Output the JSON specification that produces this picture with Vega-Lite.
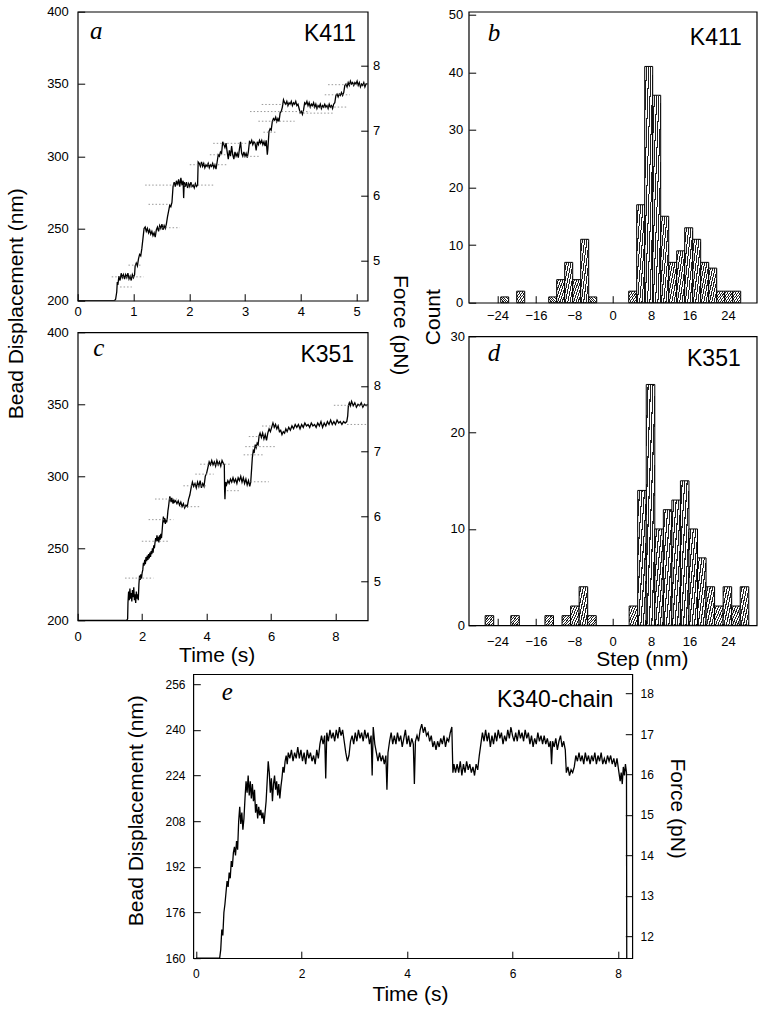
{
  "$schema": "https://vega.github.io/schema/vega-lite/v6.json",
  "background": "white",
  "padding": {"left": 4.7, "top": 4.7, "right": 5, "bottom": 5},
  "spacing": 2.5,
  "datasets": {
    "ta": [
      {"t":0,"y":200},{"t":0.66,"y":200},{"t":0.68,"y":201},{"t":0.70,"y":206},{"t":0.71,"y":213},{"t":0.72,"y":211},{"t":0.74,"y":217},{"t":0.76,"y":214},{"t":0.78,"y":219},{"t":0.80,"y":216},{"t":0.82,"y":218},{"t":0.84,"y":215},{"t":0.86,"y":218},{"t":0.88,"y":216},{"t":0.90,"y":219},{"t":0.92,"y":215},{"t":0.94,"y":217},{"t":0.96,"y":214},{"t":0.98,"y":218},{"t":1.00,"y":216},{"t":1.02,"y":218},{"t":1.03,"y":224},{"t":1.05,"y":226},{"t":1.07,"y":224},{"t":1.09,"y":229},{"t":1.11,"y":232},{"t":1.13,"y":231},{"t":1.15,"y":236},{"t":1.17,"y":243},{"t":1.19,"y":250},{"t":1.21,"y":251},{"t":1.23,"y":248},{"t":1.25,"y":250},{"t":1.27,"y":247},{"t":1.29,"y":249},{"t":1.31,"y":246},{"t":1.33,"y":248},{"t":1.35,"y":245},{"t":1.37,"y":247},{"t":1.39,"y":244},{"t":1.41,"y":249},{"t":1.43,"y":251},{"t":1.45,"y":248},{"t":1.47,"y":252},{"t":1.49,"y":250},{"t":1.51,"y":253},{"t":1.53,"y":249},{"t":1.55,"y":252},{"t":1.57,"y":250},{"t":1.59,"y":253},{"t":1.61,"y":258},{"t":1.63,"y":262},{"t":1.65,"y":266},{"t":1.67,"y":265},{"t":1.69,"y":268},{"t":1.71,"y":279},{"t":1.73,"y":282},{"t":1.75,"y":279},{"t":1.77,"y":283},{"t":1.79,"y":280},{"t":1.81,"y":284},{"t":1.83,"y":279},{"t":1.85,"y":285},{"t":1.87,"y":280},{"t":1.89,"y":283},{"t":1.90,"y":271},{"t":1.91,"y":282},{"t":1.93,"y":279},{"t":1.95,"y":282},{"t":1.97,"y":278},{"t":1.99,"y":281},{"t":2.01,"y":279},{"t":2.03,"y":282},{"t":2.05,"y":279},{"t":2.07,"y":280},{"t":2.09,"y":278},{"t":2.11,"y":281},{"t":2.13,"y":279},{"t":2.15,"y":280},{"t":2.16,"y":296},{"t":2.18,"y":295},{"t":2.20,"y":293},{"t":2.22,"y":296},{"t":2.24,"y":293},{"t":2.26,"y":295},{"t":2.28,"y":292},{"t":2.30,"y":294},{"t":2.32,"y":293},{"t":2.34,"y":295},{"t":2.36,"y":292},{"t":2.38,"y":294},{"t":2.40,"y":293},{"t":2.42,"y":295},{"t":2.44,"y":292},{"t":2.46,"y":294},{"t":2.48,"y":291},{"t":2.50,"y":296},{"t":2.52,"y":301},{"t":2.54,"y":300},{"t":2.56,"y":303},{"t":2.58,"y":302},{"t":2.60,"y":310},{"t":2.62,"y":308},{"t":2.64,"y":306},{"t":2.66,"y":309},{"t":2.68,"y":303},{"t":2.70,"y":298},{"t":2.72,"y":304},{"t":2.74,"y":300},{"t":2.76,"y":307},{"t":2.78,"y":301},{"t":2.80,"y":298},{"t":2.82,"y":303},{"t":2.84,"y":300},{"t":2.86,"y":302},{"t":2.88,"y":299},{"t":2.90,"y":305},{"t":2.92,"y":310},{"t":2.94,"y":302},{"t":2.96,"y":300},{"t":2.98,"y":303},{"t":3.00,"y":300},{"t":3.02,"y":302},{"t":3.04,"y":299},{"t":3.06,"y":303},{"t":3.08,"y":310},{"t":3.10,"y":309},{"t":3.12,"y":311},{"t":3.14,"y":308},{"t":3.16,"y":310},{"t":3.18,"y":309},{"t":3.20,"y":304},{"t":3.22,"y":310},{"t":3.24,"y":308},{"t":3.26,"y":311},{"t":3.28,"y":309},{"t":3.30,"y":311},{"t":3.32,"y":308},{"t":3.34,"y":310},{"t":3.36,"y":307},{"t":3.38,"y":311},{"t":3.40,"y":301},{"t":3.41,"y":305},{"t":3.43,"y":317},{"t":3.45,"y":319},{"t":3.47,"y":318},{"t":3.49,"y":324},{"t":3.51,"y":326},{"t":3.53,"y":325},{"t":3.55,"y":327},{"t":3.57,"y":324},{"t":3.59,"y":326},{"t":3.61,"y":324},{"t":3.63,"y":330},{"t":3.65,"y":331},{"t":3.67,"y":334},{"t":3.69,"y":339},{"t":3.71,"y":337},{"t":3.73,"y":336},{"t":3.75,"y":338},{"t":3.77,"y":335},{"t":3.79,"y":337},{"t":3.81,"y":336},{"t":3.83,"y":338},{"t":3.85,"y":335},{"t":3.87,"y":337},{"t":3.89,"y":336},{"t":3.91,"y":338},{"t":3.93,"y":335},{"t":3.95,"y":336},{"t":3.97,"y":333},{"t":3.99,"y":330},{"t":4.01,"y":331},{"t":4.03,"y":329},{"t":4.05,"y":332},{"t":4.07,"y":337},{"t":4.09,"y":336},{"t":4.11,"y":338},{"t":4.13,"y":335},{"t":4.15,"y":337},{"t":4.17,"y":334},{"t":4.19,"y":336},{"t":4.21,"y":335},{"t":4.23,"y":337},{"t":4.25,"y":334},{"t":4.27,"y":336},{"t":4.29,"y":333},{"t":4.31,"y":335},{"t":4.33,"y":334},{"t":4.35,"y":336},{"t":4.37,"y":333},{"t":4.39,"y":335},{"t":4.41,"y":334},{"t":4.43,"y":336},{"t":4.45,"y":334},{"t":4.47,"y":335},{"t":4.49,"y":333},{"t":4.51,"y":336},{"t":4.53,"y":334},{"t":4.55,"y":335},{"t":4.57,"y":333},{"t":4.59,"y":336},{"t":4.61,"y":337},{"t":4.63,"y":342},{"t":4.65,"y":343},{"t":4.67,"y":341},{"t":4.69,"y":343},{"t":4.71,"y":342},{"t":4.73,"y":344},{"t":4.75,"y":342},{"t":4.77,"y":344},{"t":4.79,"y":349},{"t":4.81,"y":350},{"t":4.83,"y":348},{"t":4.85,"y":351},{"t":4.87,"y":349},{"t":4.89,"y":352},{"t":4.91,"y":350},{"t":4.93,"y":351},{"t":4.95,"y":349},{"t":4.97,"y":351},{"t":4.99,"y":350},{"t":5.01,"y":352},{"t":5.03,"y":349},{"t":5.05,"y":351},{"t":5.07,"y":348},{"t":5.09,"y":350},{"t":5.11,"y":349},{"t":5.13,"y":351},{"t":5.15,"y":348},{"t":5.17,"y":350},{"t":5.20,"y":350}
    ],
    "ga": [
      {"t1":0.61,"t2":1.18,"y":216.5},{"t1":0.91,"t2":1.15,"y":224.6},{"t1":0.76,"t2":0.97,"y":209.5},{"t1":1.45,"t2":1.83,"y":250.5},{"t1":1.27,"t2":1.71,"y":266.7},{"t1":1.21,"t2":2.43,"y":280},{"t1":2.01,"t2":2.67,"y":294.1},{"t1":2.37,"t2":2.67,"y":301},{"t1":2.43,"t2":3.06,"y":308.9},{"t1":3.03,"t2":3.27,"y":299.9},{"t1":3.24,"t2":3.89,"y":324.2},{"t1":3.09,"t2":4.16,"y":330.9},{"t1":3.3,"t2":3.87,"y":335.8},{"t1":3.33,"t2":3.57,"y":316.6},{"t1":3.98,"t2":4.58,"y":329.8},{"t1":4.16,"t2":4.82,"y":334},{"t1":4.43,"t2":4.88,"y":342.5},{"t1":4.49,"t2":5.18,"y":349.5}
    ],
    "tc": [
      {"t":0,"y":200},{"t":1.52,"y":200},{"t":1.55,"y":201},{"t":1.56,"y":212},{"t":1.58,"y":220},{"t":1.60,"y":214},{"t":1.62,"y":222},{"t":1.64,"y":215},{"t":1.66,"y":219},{"t":1.68,"y":213},{"t":1.70,"y":221},{"t":1.72,"y":216},{"t":1.74,"y":223},{"t":1.76,"y":214},{"t":1.78,"y":218},{"t":1.80,"y":212},{"t":1.82,"y":220},{"t":1.84,"y":215},{"t":1.86,"y":218},{"t":1.88,"y":214},{"t":1.90,"y":225},{"t":1.92,"y":231},{"t":1.94,"y":228},{"t":1.96,"y":232},{"t":1.98,"y":229},{"t":2.00,"y":233},{"t":2.02,"y":235},{"t":2.04,"y":240},{"t":2.06,"y":238},{"t":2.08,"y":242},{"t":2.10,"y":239},{"t":2.12,"y":244},{"t":2.14,"y":241},{"t":2.16,"y":245},{"t":2.18,"y":242},{"t":2.20,"y":246},{"t":2.22,"y":243},{"t":2.24,"y":247},{"t":2.26,"y":244},{"t":2.28,"y":248},{"t":2.30,"y":246},{"t":2.32,"y":250},{"t":2.34,"y":247},{"t":2.36,"y":252},{"t":2.38,"y":250},{"t":2.40,"y":254},{"t":2.42,"y":257},{"t":2.44,"y":255},{"t":2.46,"y":259},{"t":2.48,"y":255},{"t":2.50,"y":258},{"t":2.52,"y":254},{"t":2.54,"y":259},{"t":2.56,"y":256},{"t":2.58,"y":260},{"t":2.60,"y":257},{"t":2.62,"y":262},{"t":2.64,"y":268},{"t":2.66,"y":272},{"t":2.68,"y":268},{"t":2.70,"y":271},{"t":2.72,"y":267},{"t":2.74,"y":270},{"t":2.76,"y":268},{"t":2.78,"y":271},{"t":2.80,"y":276},{"t":2.82,"y":279},{"t":2.84,"y":283},{"t":2.86,"y":286},{"t":2.88,"y":284},{"t":2.90,"y":282},{"t":2.92,"y":285},{"t":2.94,"y":283},{"t":2.96,"y":281},{"t":2.98,"y":284},{"t":3.00,"y":282},{"t":3.04,"y":283},{"t":3.08,"y":281},{"t":3.12,"y":283},{"t":3.16,"y":280},{"t":3.20,"y":282},{"t":3.24,"y":279},{"t":3.28,"y":281},{"t":3.32,"y":278},{"t":3.36,"y":280},{"t":3.40,"y":279},{"t":3.44,"y":284},{"t":3.48,"y":287},{"t":3.52,"y":292},{"t":3.56,"y":296},{"t":3.60,"y":293},{"t":3.64,"y":295},{"t":3.68,"y":292},{"t":3.72,"y":296},{"t":3.76,"y":293},{"t":3.80,"y":297},{"t":3.84,"y":292},{"t":3.88,"y":295},{"t":3.92,"y":293},{"t":3.96,"y":300},{"t":4.00,"y":302},{"t":4.04,"y":306},{"t":4.08,"y":310},{"t":4.12,"y":308},{"t":4.16,"y":311},{"t":4.20,"y":308},{"t":4.24,"y":310},{"t":4.28,"y":307},{"t":4.32,"y":311},{"t":4.36,"y":308},{"t":4.40,"y":310},{"t":4.44,"y":307},{"t":4.48,"y":311},{"t":4.52,"y":309},{"t":4.55,"y":308},{"t":4.56,"y":290},{"t":4.57,"y":284},{"t":4.59,"y":296},{"t":4.62,"y":294},{"t":4.66,"y":297},{"t":4.70,"y":295},{"t":4.74,"y":298},{"t":4.78,"y":296},{"t":4.82,"y":299},{"t":4.86,"y":296},{"t":4.90,"y":298},{"t":4.94,"y":295},{"t":4.98,"y":299},{"t":5.02,"y":297},{"t":5.06,"y":300},{"t":5.10,"y":296},{"t":5.14,"y":299},{"t":5.18,"y":295},{"t":5.22,"y":298},{"t":5.26,"y":294},{"t":5.30,"y":297},{"t":5.34,"y":293},{"t":5.37,"y":296},{"t":5.40,"y":306},{"t":5.42,"y":313},{"t":5.45,"y":318},{"t":5.48,"y":317},{"t":5.51,"y":322},{"t":5.54,"y":320},{"t":5.57,"y":323},{"t":5.60,"y":322},{"t":5.63,"y":328},{"t":5.66,"y":330},{"t":5.70,"y":327},{"t":5.74,"y":330},{"t":5.78,"y":326},{"t":5.82,"y":329},{"t":5.86,"y":325},{"t":5.90,"y":330},{"t":5.94,"y":333},{"t":5.98,"y":331},{"t":6.02,"y":334},{"t":6.06,"y":337},{"t":6.10,"y":334},{"t":6.14,"y":336},{"t":6.18,"y":333},{"t":6.22,"y":335},{"t":6.26,"y":331},{"t":6.30,"y":332},{"t":6.34,"y":329},{"t":6.38,"y":331},{"t":6.42,"y":330},{"t":6.46,"y":333},{"t":6.50,"y":331},{"t":6.55,"y":334},{"t":6.60,"y":332},{"t":6.65,"y":335},{"t":6.70,"y":333},{"t":6.75,"y":336},{"t":6.80,"y":334},{"t":6.85,"y":336},{"t":6.90,"y":333},{"t":6.95,"y":336},{"t":7.00,"y":334},{"t":7.05,"y":337},{"t":7.10,"y":335},{"t":7.15,"y":336},{"t":7.20,"y":334},{"t":7.25,"y":337},{"t":7.30,"y":335},{"t":7.35,"y":336},{"t":7.40,"y":334},{"t":7.45,"y":337},{"t":7.50,"y":335},{"t":7.55,"y":338},{"t":7.60,"y":334},{"t":7.65,"y":337},{"t":7.70,"y":335},{"t":7.75,"y":338},{"t":7.80,"y":336},{"t":7.85,"y":339},{"t":7.90,"y":336},{"t":7.95,"y":338},{"t":8.00,"y":336},{"t":8.05,"y":339},{"t":8.10,"y":337},{"t":8.15,"y":338},{"t":8.20,"y":336},{"t":8.25,"y":338},{"t":8.30,"y":337},{"t":8.35,"y":338},{"t":8.38,"y":342},{"t":8.40,"y":349},{"t":8.43,"y":351},{"t":8.46,"y":349},{"t":8.50,"y":352},{"t":8.55,"y":349},{"t":8.60,"y":351},{"t":8.65,"y":348},{"t":8.70,"y":350},{"t":8.75,"y":349},{"t":8.80,"y":351},{"t":8.85,"y":348},{"t":8.90,"y":350},{"t":8.95,"y":349},{"t":9.00,"y":350}
    ],
    "gc": [
      {"t1":1.47,"t2":2.35,"y":229.3},{"t1":1.99,"t2":2.82,"y":254.9},{"t1":2.2,"t2":2.97,"y":269.9},{"t1":2.4,"t2":3.08,"y":284.2},{"t1":3.18,"t2":3.8,"y":278.9},{"t1":3.28,"t2":4.01,"y":293.4},{"t1":3.65,"t2":4.22,"y":301.5},{"t1":3.8,"t2":4.74,"y":308.4},{"t1":4.63,"t2":5.05,"y":290},{"t1":5.36,"t2":5.93,"y":296.2},{"t1":5.15,"t2":5.77,"y":314.9},{"t1":5.2,"t2":6.13,"y":320.6},{"t1":5.31,"t2":5.77,"y":327.6},{"t1":5.72,"t2":6.19,"y":334.9},{"t1":8.36,"t2":8.98,"y":336},{"t1":7.95,"t2":8.98,"y":349.3}
    ],
    "te": [
      {"t":0,"y":160},{"t":0.45,"y":160},{"t":0.47,"y":163},{"t":0.49,"y":170},{"t":0.51,"y":168},{"t":0.53,"y":176},{"t":0.55,"y":179},{"t":0.57,"y":183},{"t":0.59,"y":187},{"t":0.61,"y":185},{"t":0.63,"y":190},{"t":0.65,"y":188},{"t":0.67,"y":194},{"t":0.69,"y":192},{"t":0.71,"y":197},{"t":0.73,"y":199},{"t":0.75,"y":196},{"t":0.77,"y":201},{"t":0.79,"y":198},{"t":0.81,"y":208},{"t":0.83,"y":213},{"t":0.85,"y":207},{"t":0.87,"y":211},{"t":0.89,"y":205},{"t":0.91,"y":209},{"t":0.93,"y":216},{"t":0.95,"y":222},{"t":0.97,"y":218},{"t":0.99,"y":224},{"t":1.01,"y":217},{"t":1.03,"y":222},{"t":1.05,"y":216},{"t":1.07,"y":221},{"t":1.09,"y":215},{"t":1.11,"y":219},{"t":1.13,"y":211},{"t":1.15,"y":214},{"t":1.17,"y":209},{"t":1.19,"y":213},{"t":1.21,"y":210},{"t":1.23,"y":212},{"t":1.25,"y":209},{"t":1.27,"y":211},{"t":1.29,"y":207},{"t":1.31,"y":211},{"t":1.33,"y":215},{"t":1.35,"y":222},{"t":1.37,"y":229},{"t":1.39,"y":225},{"t":1.41,"y":218},{"t":1.43,"y":223},{"t":1.45,"y":215},{"t":1.47,"y":221},{"t":1.49,"y":224},{"t":1.51,"y":219},{"t":1.53,"y":222},{"t":1.55,"y":217},{"t":1.57,"y":221},{"t":1.59,"y":216},{"t":1.61,"y":220},{"t":1.63,"y":223},{"t":1.65,"y":227},{"t":1.67,"y":225},{"t":1.69,"y":229},{"t":1.71,"y":231},{"t":1.73,"y":228},{"t":1.75,"y":232},{"t":1.78,"y":230},{"t":1.81,"y":233},{"t":1.84,"y":229},{"t":1.87,"y":232},{"t":1.90,"y":230},{"t":1.93,"y":234},{"t":1.96,"y":230},{"t":1.99,"y":233},{"t":2.02,"y":229},{"t":2.05,"y":232},{"t":2.08,"y":228},{"t":2.11,"y":233},{"t":2.14,"y":230},{"t":2.17,"y":232},{"t":2.20,"y":229},{"t":2.23,"y":231},{"t":2.26,"y":228},{"t":2.29,"y":233},{"t":2.32,"y":230},{"t":2.35,"y":235},{"t":2.38,"y":238},{"t":2.41,"y":235},{"t":2.44,"y":238},{"t":2.46,"y":223},{"t":2.48,"y":239},{"t":2.51,"y":236},{"t":2.54,"y":240},{"t":2.57,"y":237},{"t":2.60,"y":239},{"t":2.63,"y":236},{"t":2.66,"y":240},{"t":2.69,"y":237},{"t":2.72,"y":241},{"t":2.75,"y":238},{"t":2.78,"y":240},{"t":2.81,"y":236},{"t":2.84,"y":232},{"t":2.87,"y":229},{"t":2.90,"y":231},{"t":2.93,"y":236},{"t":2.96,"y":238},{"t":2.99,"y":235},{"t":3.02,"y":239},{"t":3.05,"y":236},{"t":3.08,"y":240},{"t":3.11,"y":237},{"t":3.14,"y":239},{"t":3.17,"y":236},{"t":3.20,"y":240},{"t":3.23,"y":237},{"t":3.26,"y":239},{"t":3.29,"y":235},{"t":3.32,"y":238},{"t":3.34,"y":224},{"t":3.36,"y":241},{"t":3.39,"y":235},{"t":3.42,"y":232},{"t":3.45,"y":229},{"t":3.48,"y":232},{"t":3.51,"y":229},{"t":3.54,"y":231},{"t":3.57,"y":228},{"t":3.60,"y":231},{"t":3.62,"y":219},{"t":3.64,"y":232},{"t":3.67,"y":236},{"t":3.70,"y":239},{"t":3.73,"y":235},{"t":3.76,"y":238},{"t":3.79,"y":235},{"t":3.82,"y":239},{"t":3.85,"y":236},{"t":3.88,"y":238},{"t":3.91,"y":234},{"t":3.94,"y":237},{"t":3.97,"y":240},{"t":4.00,"y":235},{"t":4.03,"y":238},{"t":4.06,"y":234},{"t":4.09,"y":237},{"t":4.12,"y":235},{"t":4.14,"y":221},{"t":4.16,"y":236},{"t":4.19,"y":238},{"t":4.22,"y":236},{"t":4.25,"y":240},{"t":4.28,"y":242},{"t":4.31,"y":239},{"t":4.34,"y":241},{"t":4.37,"y":238},{"t":4.40,"y":239},{"t":4.43,"y":236},{"t":4.46,"y":238},{"t":4.49,"y":234},{"t":4.52,"y":236},{"t":4.55,"y":233},{"t":4.58,"y":236},{"t":4.61,"y":234},{"t":4.64,"y":237},{"t":4.67,"y":235},{"t":4.70,"y":238},{"t":4.73,"y":234},{"t":4.76,"y":237},{"t":4.79,"y":236},{"t":4.82,"y":239},{"t":4.85,"y":241},{"t":4.87,"y":225},{"t":4.89,"y":228},{"t":4.92,"y":225},{"t":4.95,"y":228},{"t":4.98,"y":225},{"t":5.01,"y":229},{"t":5.04,"y":224},{"t":5.07,"y":228},{"t":5.10,"y":225},{"t":5.13,"y":229},{"t":5.16,"y":226},{"t":5.19,"y":228},{"t":5.22,"y":225},{"t":5.25,"y":227},{"t":5.28,"y":224},{"t":5.31,"y":228},{"t":5.34,"y":226},{"t":5.37,"y":231},{"t":5.40,"y":235},{"t":5.43,"y":239},{"t":5.46,"y":236},{"t":5.49,"y":240},{"t":5.52,"y":236},{"t":5.55,"y":239},{"t":5.58,"y":234},{"t":5.61,"y":238},{"t":5.64,"y":235},{"t":5.67,"y":239},{"t":5.70,"y":236},{"t":5.73,"y":240},{"t":5.76,"y":237},{"t":5.79,"y":239},{"t":5.82,"y":235},{"t":5.85,"y":238},{"t":5.88,"y":236},{"t":5.91,"y":240},{"t":5.94,"y":237},{"t":5.97,"y":241},{"t":6.00,"y":238},{"t":6.03,"y":236},{"t":6.06,"y":239},{"t":6.09,"y":236},{"t":6.12,"y":240},{"t":6.15,"y":237},{"t":6.18,"y":239},{"t":6.21,"y":236},{"t":6.24,"y":240},{"t":6.27,"y":237},{"t":6.30,"y":239},{"t":6.33,"y":235},{"t":6.36,"y":238},{"t":6.39,"y":234},{"t":6.42,"y":237},{"t":6.45,"y":235},{"t":6.48,"y":239},{"t":6.51,"y":236},{"t":6.54,"y":238},{"t":6.57,"y":235},{"t":6.60,"y":238},{"t":6.63,"y":235},{"t":6.66,"y":237},{"t":6.69,"y":234},{"t":6.72,"y":236},{"t":6.74,"y":228},{"t":6.76,"y":236},{"t":6.79,"y":234},{"t":6.82,"y":237},{"t":6.85,"y":233},{"t":6.88,"y":236},{"t":6.91,"y":238},{"t":6.94,"y":234},{"t":6.97,"y":236},{"t":7.00,"y":233},{"t":7.02,"y":225},{"t":7.05,"y":227},{"t":7.08,"y":224},{"t":7.11,"y":226},{"t":7.14,"y":225},{"t":7.17,"y":227},{"t":7.20,"y":231},{"t":7.23,"y":229},{"t":7.26,"y":232},{"t":7.29,"y":229},{"t":7.32,"y":231},{"t":7.35,"y":228},{"t":7.38,"y":232},{"t":7.41,"y":229},{"t":7.44,"y":231},{"t":7.47,"y":228},{"t":7.50,"y":231},{"t":7.53,"y":229},{"t":7.56,"y":232},{"t":7.59,"y":228},{"t":7.62,"y":231},{"t":7.65,"y":229},{"t":7.68,"y":232},{"t":7.71,"y":228},{"t":7.74,"y":230},{"t":7.77,"y":228},{"t":7.80,"y":231},{"t":7.83,"y":229},{"t":7.86,"y":231},{"t":7.89,"y":228},{"t":7.92,"y":230},{"t":7.95,"y":227},{"t":7.98,"y":230},{"t":8.01,"y":226},{"t":8.04,"y":222},{"t":8.06,"y":225},{"t":8.08,"y":221},{"t":8.10,"y":227},{"t":8.12,"y":224},{"t":8.14,"y":228},{"t":8.16,"y":225},{"t":8.165,"y":160}
    ],
    "hb": [
      {"s":-23.33,"e":-21.67,"n":1},{"s":-20,"e":-18.33,"n":2},{"s":-13.33,"e":-11.67,"n":1},{"s":-11.67,"e":-10,"n":4},{"s":-10,"e":-8.33,"n":7},{"s":-8.33,"e":-6.67,"n":4},{"s":-6.67,"e":-5,"n":11},{"s":-5,"e":-3.33,"n":1},{"s":3.33,"e":5,"n":2},{"s":5,"e":6.67,"n":17},{"s":6.67,"e":8.33,"n":41},{"s":8.33,"e":10,"n":36},{"s":10,"e":11.67,"n":15},{"s":11.67,"e":13.33,"n":7},{"s":13.33,"e":15,"n":9},{"s":15,"e":16.67,"n":13},{"s":16.67,"e":18.33,"n":11},{"s":18.33,"e":20,"n":7},{"s":20,"e":21.67,"n":6},{"s":21.67,"e":23.33,"n":2},{"s":23.33,"e":25,"n":2},{"s":25,"e":26.67,"n":2}
    ],
    "hd": [
      {"s":-26.57,"e":-24.79,"n":1},{"s":-21.23,"e":-19.45,"n":1},{"s":-14.11,"e":-12.33,"n":1},{"s":-10.55,"e":-8.77,"n":1},{"s":-8.77,"e":-6.99,"n":2},{"s":-6.99,"e":-5.21,"n":4},{"s":-5.21,"e":-3.43,"n":1},{"s":3.43,"e":5.21,"n":2},{"s":5.21,"e":6.99,"n":14},{"s":6.99,"e":8.77,"n":25},{"s":8.77,"e":10.55,"n":10},{"s":10.55,"e":12.33,"n":12},{"s":12.33,"e":14.11,"n":13},{"s":14.11,"e":15.89,"n":15},{"s":15.89,"e":17.67,"n":10},{"s":17.67,"e":19.45,"n":7},{"s":19.45,"e":21.23,"n":4},{"s":21.23,"e":23.01,"n":2},{"s":23.01,"e":24.79,"n":4},{"s":24.79,"e":26.57,"n":2},{"s":26.57,"e":28.35,"n":4}
    ]
  },
  "vconcat": [
    {
      "spacing": 10,
      "hconcat": [
        {
          "bounds": "flush",
          "spacing": 31.6,
          "vconcat": [
            {
              "width": 290, "height": 289,
              "layer": [
                {
                  "layer": [
                    {"data": {"name": "ta"}, "mark": {"type": "line", "color": "black", "strokeWidth": 1.3, "clip": true},
                     "encoding": {
                       "x": {"field": "t", "type": "quantitative", "scale": {"domain": [0, 5.2], "nice": false, "zero": false}, "axis": {"values": [0,1,2,3,4,5], "format": "d", "title": null, "labelPadding": 12.3}},
                       "y": {"field": "y", "type": "quantitative", "scale": {"domain": [200, 400], "nice": false, "zero": false}, "axis": {"values": [200,250,300,350,400], "format": "d", "labelPadding": 16.4, "title": "Bead Displacement (nm)", "titleX": -61, "titleY": 291.5, "titleAngle": -90, "titleAlign": "center", "titleBaseline": "middle"}}
                     }},
                    {"data": {"name": "ga"}, "mark": {"type": "rule", "color": "#808080", "strokeDash": [1.5, 2], "strokeWidth": 0.8},
                     "encoding": {"x": {"field": "t1", "type": "quantitative", "scale": {"domain": [0, 5.2], "nice": false, "zero": false}}, "x2": {"field": "t2"}, "y": {"field": "y", "type": "quantitative", "scale": {"domain": [200, 400], "nice": false, "zero": false}}}},
                    {"data": {"values": [{"lab": "a"}]}, "mark": {"type": "text", "font": "Liberation Serif", "fontStyle": "italic", "fontSize": 25, "align": "left", "baseline": "alphabetic", "color": "black"},
                     "encoding": {"x": {"datum": 0.22}, "y": {"datum": 381}, "text": {"field": "lab"}}},
                    {"data": {"values": [{"lab": "K411"}]}, "mark": {"type": "text", "font": "Liberation Sans", "fontSize": 23, "align": "right", "baseline": "alphabetic", "color": "black"},
                     "encoding": {"x": {"datum": 4.99}, "y": {"datum": 379.5}, "text": {"field": "lab"}}}
                  ]
                },
                {"data": {"values": [{"f": 6}]}, "mark": {"type": "point", "opacity": 0},
                 "encoding": {"y": {"field": "f", "type": "quantitative", "scale": {"domain": [4.39, 8.83], "nice": false, "zero": false},
                   "axis": {"orient": "right", "values": [5,6,7,8], "format": "d", "labelPadding": 11.8, "title": "Force (pN)", "titleAngle": 90, "titleX": 32.3, "titleY": 313, "titleAlign": "center", "titleBaseline": "middle"}}}}
              ],
              "resolve": {"scale": {"y": "independent"}, "axis": {"y": "independent"}}
            },
            {
              "width": 290, "height": 288,
              "layer": [
                {
                  "layer": [
                    {"data": {"name": "tc"}, "mark": {"type": "line", "color": "black", "strokeWidth": 1.3, "clip": true},
                     "encoding": {
                       "x": {"field": "t", "type": "quantitative", "scale": {"domain": [0, 9], "nice": false, "zero": false}, "axis": {"values": [0,2,4,6,8], "format": "d", "labelPadding": 17.6, "title": "Time (s)", "titleX": 139, "titleY": 35, "titleAlign": "center", "titleBaseline": "middle"}},
                       "y": {"field": "y", "type": "quantitative", "scale": {"domain": [200, 400], "nice": false, "zero": false}, "axis": {"values": [200,250,300,350,400], "format": "d", "labelPadding": 16.4, "title": null}}
                     }},
                    {"data": {"name": "gc"}, "mark": {"type": "rule", "color": "#808080", "strokeDash": [1.5, 2], "strokeWidth": 0.8},
                     "encoding": {"x": {"field": "t1", "type": "quantitative", "scale": {"domain": [0, 9], "nice": false, "zero": false}}, "x2": {"field": "t2"}, "y": {"field": "y", "type": "quantitative", "scale": {"domain": [200, 400], "nice": false, "zero": false}}}},
                    {"data": {"values": [{"lab": "c"}]}, "mark": {"type": "text", "font": "Liberation Serif", "fontStyle": "italic", "fontSize": 25, "align": "left", "baseline": "alphabetic", "color": "black"},
                     "encoding": {"x": {"datum": 0.48}, "y": {"datum": 383.7}, "text": {"field": "lab"}}},
                    {"data": {"values": [{"lab": "K351"}]}, "mark": {"type": "text", "font": "Liberation Sans", "fontSize": 23, "align": "right", "baseline": "alphabetic", "color": "black"},
                     "encoding": {"x": {"datum": 8.58}, "y": {"datum": 379.2}, "text": {"field": "lab"}}}
                  ]
                },
                {"data": {"values": [{"f": 6}]}, "mark": {"type": "point", "opacity": 0},
                 "encoding": {"y": {"field": "f", "type": "quantitative", "scale": {"domain": [4.41, 8.82], "nice": false, "zero": false},
                   "axis": {"orient": "right", "values": [5,6,7,8], "format": "d", "labelPadding": 12.6, "title": null}}}}
              ],
              "resolve": {"scale": {"y": "independent"}, "axis": {"y": "independent"}}
            }
          ]
        },
        {
          "bounds": "flush",
          "spacing": 33.6,
          "vconcat": [
            {
              "width": 288, "height": 291,
              "layer": [
                {"data": {"name": "hb"},
                 "mark": {"type": "rect", "stroke": "black", "strokeWidth": 1,
                   "fill": {"gradient": "linear", "x1": 0, "y1": 0, "x2": 1, "y2": 1, "stops": [
                     {"offset": 0, "color": "white"}, {"offset": 0.0786, "color": "white"}, {"offset": 0.0786, "color": "#222222"}, {"offset": 0.1429, "color": "#222222"},
                     {"offset": 0.1429, "color": "white"}, {"offset": 0.2214, "color": "white"}, {"offset": 0.2214, "color": "#222222"}, {"offset": 0.2857, "color": "#222222"},
                     {"offset": 0.2857, "color": "white"}, {"offset": 0.3643, "color": "white"}, {"offset": 0.3643, "color": "#222222"}, {"offset": 0.4286, "color": "#222222"},
                     {"offset": 0.4286, "color": "white"}, {"offset": 0.5071, "color": "white"}, {"offset": 0.5071, "color": "#222222"}, {"offset": 0.5714, "color": "#222222"},
                     {"offset": 0.5714, "color": "white"}, {"offset": 0.65, "color": "white"}, {"offset": 0.65, "color": "#222222"}, {"offset": 0.7143, "color": "#222222"},
                     {"offset": 0.7143, "color": "white"}, {"offset": 0.7929, "color": "white"}, {"offset": 0.7929, "color": "#222222"}, {"offset": 0.8571, "color": "#222222"},
                     {"offset": 0.8571, "color": "white"}, {"offset": 0.9357, "color": "white"}, {"offset": 0.9357, "color": "#222222"}, {"offset": 1, "color": "#222222"}]}},
                 "encoding": {
                   "x": {"field": "s", "type": "quantitative", "scale": {"domain": [-30, 30], "nice": false, "zero": false}, "axis": {"values": [-24,-16,-8,0,8,16,24], "format": "d", "labelPadding": 14, "title": null}},
                   "x2": {"field": "e"},
                   "y": {"field": "n", "type": "quantitative", "scale": {"domain": [0, 50.5], "nice": false}, "axis": {"values": [0,10,20,30,40,50], "format": "d", "labelPadding": 13, "title": "Count", "titleX": -35, "titleY": 305, "titleAngle": -90, "titleAlign": "center", "titleBaseline": "middle"}},
                   "y2": {"datum": 0}
                 }},
                {"data": {"values": [{"lab": "b"}]}, "mark": {"type": "text", "font": "Liberation Serif", "fontStyle": "italic", "fontSize": 25, "align": "left", "baseline": "alphabetic", "color": "black"},
                 "encoding": {"x": {"datum": -26.05}, "y": {"datum": 45.5}, "text": {"field": "lab"}}},
                {"data": {"values": [{"lab": "K411"}]}, "mark": {"type": "text", "font": "Liberation Sans", "fontSize": 23, "align": "right", "baseline": "alphabetic", "color": "black"},
                 "encoding": {"x": {"datum": 26.9}, "y": {"datum": 44.8}, "text": {"field": "lab"}}}
              ]
            },
            {
              "width": 288, "height": 289,
              "layer": [
                {"data": {"name": "hd"},
                 "mark": {"type": "rect", "stroke": "black", "strokeWidth": 1,
                   "fill": {"gradient": "linear", "x1": 0, "y1": 0, "x2": 1, "y2": 1, "stops": [
                     {"offset": 0, "color": "white"}, {"offset": 0.0786, "color": "white"}, {"offset": 0.0786, "color": "#222222"}, {"offset": 0.1429, "color": "#222222"},
                     {"offset": 0.1429, "color": "white"}, {"offset": 0.2214, "color": "white"}, {"offset": 0.2214, "color": "#222222"}, {"offset": 0.2857, "color": "#222222"},
                     {"offset": 0.2857, "color": "white"}, {"offset": 0.3643, "color": "white"}, {"offset": 0.3643, "color": "#222222"}, {"offset": 0.4286, "color": "#222222"},
                     {"offset": 0.4286, "color": "white"}, {"offset": 0.5071, "color": "white"}, {"offset": 0.5071, "color": "#222222"}, {"offset": 0.5714, "color": "#222222"},
                     {"offset": 0.5714, "color": "white"}, {"offset": 0.65, "color": "white"}, {"offset": 0.65, "color": "#222222"}, {"offset": 0.7143, "color": "#222222"},
                     {"offset": 0.7143, "color": "white"}, {"offset": 0.7929, "color": "white"}, {"offset": 0.7929, "color": "#222222"}, {"offset": 0.8571, "color": "#222222"},
                     {"offset": 0.8571, "color": "white"}, {"offset": 0.9357, "color": "white"}, {"offset": 0.9357, "color": "#222222"}, {"offset": 1, "color": "#222222"}]}},
                 "encoding": {
                   "x": {"field": "s", "type": "quantitative", "scale": {"domain": [-30, 30], "nice": false, "zero": false}, "axis": {"values": [-24,-16,-8,0,8,16,24], "format": "d", "labelPadding": 17, "title": "Step (nm)", "titleX": 173.2, "titleY": 34, "titleAlign": "center", "titleBaseline": "middle"}},
                   "x2": {"field": "e"},
                   "y": {"field": "n", "type": "quantitative", "scale": {"domain": [0, 30], "nice": false}, "axis": {"values": [0,10,20,30], "format": "d", "labelPadding": 11.3, "title": null}},
                   "y2": {"datum": 0}
                 }},
                {"data": {"values": [{"lab": "d"}]}, "mark": {"type": "text", "font": "Liberation Serif", "fontStyle": "italic", "fontSize": 25, "align": "left", "baseline": "alphabetic", "color": "black"},
                 "encoding": {"x": {"datum": -26.05}, "y": {"datum": 27.47}, "text": {"field": "lab"}}},
                {"data": {"values": [{"lab": "K351"}]}, "mark": {"type": "text", "font": "Liberation Sans", "fontSize": 23, "align": "right", "baseline": "alphabetic", "color": "black"},
                 "encoding": {"x": {"datum": 26.67}, "y": {"datum": 26.95}, "text": {"field": "lab"}}}
              ]
            }
          ]
        }
      ]
    },
    {
      "bounds": "flush",
      "spacing": 15.6,
      "hconcat": [
        {"width": 100, "height": 1, "data": {"values": []}, "mark": "point", "view": {"stroke": null}},
        {
          "width": 439, "height": 284,
          "layer": [
            {
              "layer": [
                {"data": {"name": "te"}, "mark": {"type": "line", "color": "black", "strokeWidth": 1.3, "clip": true},
                 "encoding": {
                   "x": {"field": "t", "type": "quantitative", "scale": {"domain": [-0.05, 8.27], "nice": false, "zero": false}, "axis": {"values": [0,2,4,6,8], "format": "d", "labelFontSize": 12, "labelPadding": 17, "title": "Time (s)", "titleX": 216.7, "titleY": 36, "titleAlign": "center", "titleBaseline": "middle"}},
                   "y": {"field": "y", "type": "quantitative", "scale": {"domain": [160, 259.5], "nice": false, "zero": false}, "axis": {"values": [160,168,176,184,192,200,208,216,224,232,240,248,256], "format": "d", "labelExpr": "datum.value % 16 == 0 ? datum.label : ''", "labelFontSize": 12, "labelPadding": 15.3, "title": "Bead Displacement (nm)", "titleX": -56.3, "titleY": 136, "titleAngle": -90, "titleAlign": "center", "titleBaseline": "middle"}}
                 }},
                {"data": {"values": [{"lab": "e"}]}, "mark": {"type": "text", "font": "Liberation Serif", "fontStyle": "italic", "fontSize": 25, "align": "left", "baseline": "alphabetic", "color": "black"},
                 "encoding": {"x": {"datum": 0.49}, "y": {"datum": 250.4}, "text": {"field": "lab"}}},
                {"data": {"values": [{"lab": "K340-chain"}]}, "mark": {"type": "text", "font": "Liberation Sans", "fontSize": 23, "align": "right", "baseline": "alphabetic", "color": "black"},
                 "encoding": {"x": {"datum": 7.91}, "y": {"datum": 248}, "text": {"field": "lab"}}}
              ]
            },
            {"data": {"values": [{"f": 15}]}, "mark": {"type": "point", "opacity": 0},
             "encoding": {"y": {"field": "f", "type": "quantitative", "scale": {"domain": [11.46, 18.48], "nice": false, "zero": false},
               "axis": {"orient": "right", "values": [12,13,14,15,16,17,18], "format": "d", "labelFontSize": 12, "labelPadding": 14.7, "title": "Force (pN)", "titleAngle": 90, "titleX": 44.4, "titleY": 134, "titleAlign": "center", "titleBaseline": "middle"}}}}
          ],
          "resolve": {"scale": {"y": "independent"}, "axis": {"y": "independent"}}
        }
      ]
    }
  ],
  "config": {
    "view": {"stroke": "black", "strokeWidth": 1.2},
    "axis": {
      "domain": false, "grid": false, "ticks": true, "tickSize": -7, "tickColor": "black", "tickWidth": 1,
      "labelColor": "black", "labelFont": "Liberation Sans", "labelFontSize": 13, "labelFlush": false, "labelOverlap": false,
      "titleFont": "Liberation Sans", "titleFontSize": 21, "titleFontWeight": "normal", "titleColor": "black"
    }
  }
}
